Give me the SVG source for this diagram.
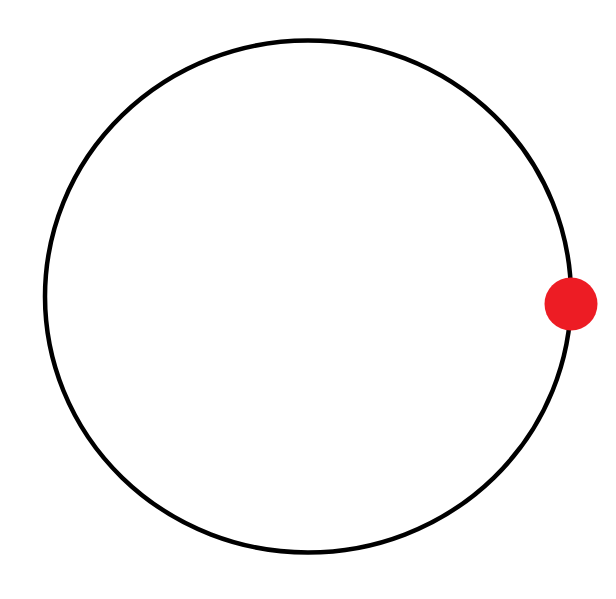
<svg xmlns="http://www.w3.org/2000/svg" width="616" height="599" viewBox="0 0 616 599">
<style>.orbit{fill:none;stroke:#000;stroke-width:4.5}.dot{fill:#ED1C24}</style>
<rect width="616" height="599" fill="#fff"/>
<g id="orbit"><ellipse class="orbit" cx="308" cy="296.5" rx="263" ry="256"/></g>
<g id="point"><circle class="dot" cx="571" cy="304" r="26.5"/></g>
<g id="connectors"></g>
</svg>
